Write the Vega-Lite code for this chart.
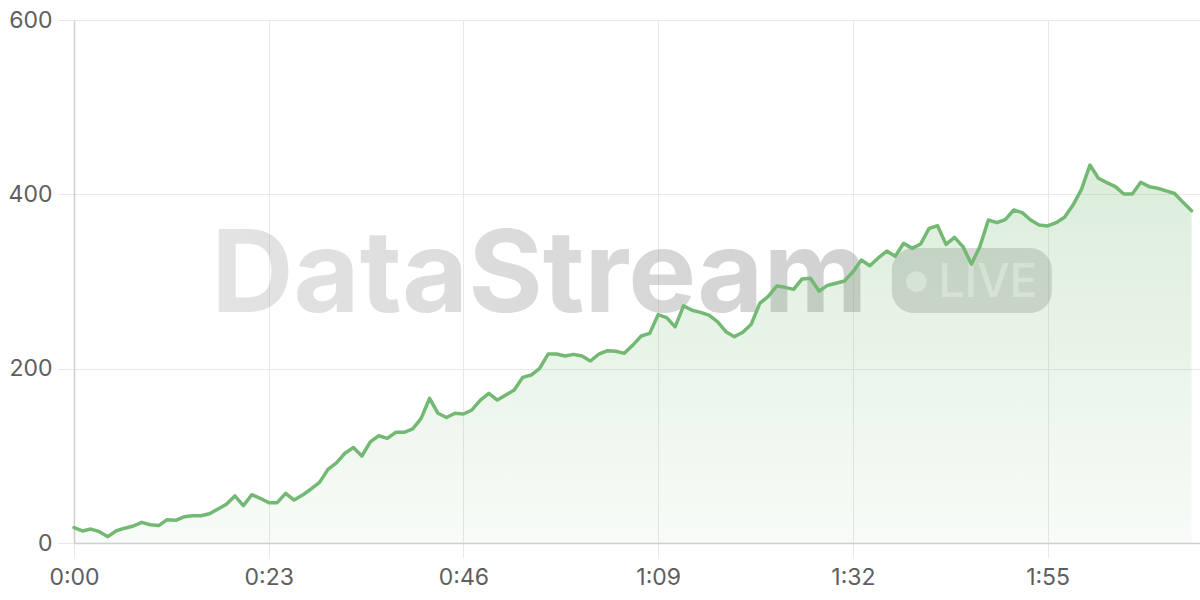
{
  "$schema": "https://vega.github.io/schema/vega-lite/v6.json",
  "width": 1126,
  "height": 523,
  "autosize": {"type": "none"},
  "padding": {"left": 74, "top": 20, "right": 0, "bottom": 57},
  "background": "white",
  "config": {
    "view": {"stroke": null},
    "font": "Inter",
    "axis": {
      "labelFont": "Inter",
      "labelFontSize": 23,
      "labelColor": "#5e5e5e",
      "labelFlush": false,
      "gridColor": "#e8e8e8",
      "tickColor": "#e8e8e8",
      "domainColor": "#cfcfcf",
      "domainWidth": 1.5,
      "title": null
    }
  },
  "datasets": {
    "series": [
      {"t": 0, "v": 17.6}, {"t": 1, "v": 13.8}, {"t": 2, "v": 16}, {"t": 3, "v": 13}, {"t": 4, "v": 7.3},
      {"t": 5, "v": 14}, {"t": 6, "v": 17}, {"t": 7, "v": 19.5}, {"t": 8, "v": 23.7}, {"t": 9, "v": 21},
      {"t": 10, "v": 20}, {"t": 11, "v": 26.8}, {"t": 12, "v": 26}, {"t": 13, "v": 30}, {"t": 14, "v": 31.3},
      {"t": 15, "v": 31.3}, {"t": 16, "v": 33.6}, {"t": 17, "v": 39}, {"t": 18, "v": 44.4}, {"t": 19, "v": 54},
      {"t": 20, "v": 42.8}, {"t": 21, "v": 55.4}, {"t": 22, "v": 51.3}, {"t": 23, "v": 46.3}, {"t": 24, "v": 46.3},
      {"t": 25, "v": 57}, {"t": 26, "v": 49.3}, {"t": 27, "v": 55}, {"t": 28, "v": 62}, {"t": 29, "v": 69.6},
      {"t": 30, "v": 84.5}, {"t": 31, "v": 92}, {"t": 32, "v": 103}, {"t": 33, "v": 109.5}, {"t": 34, "v": 99.8},
      {"t": 35, "v": 116}, {"t": 36, "v": 123}, {"t": 37, "v": 120}, {"t": 38, "v": 127}, {"t": 39, "v": 127},
      {"t": 40, "v": 130.8}, {"t": 41, "v": 143}, {"t": 42, "v": 166}, {"t": 43, "v": 148.8}, {"t": 44, "v": 144},
      {"t": 45, "v": 148.8}, {"t": 46, "v": 148}, {"t": 47, "v": 152.6}, {"t": 48, "v": 164}, {"t": 49, "v": 171.7},
      {"t": 50, "v": 164}, {"t": 51, "v": 169.8}, {"t": 52, "v": 175.5}, {"t": 53, "v": 190}, {"t": 54, "v": 192.7},
      {"t": 55, "v": 200.4}, {"t": 56, "v": 216.8}, {"t": 57, "v": 216.8}, {"t": 58, "v": 214.5}, {"t": 59, "v": 216.4},
      {"t": 60, "v": 214.5}, {"t": 61, "v": 208.8}, {"t": 62, "v": 216.8}, {"t": 63, "v": 220.6}, {"t": 64, "v": 220},
      {"t": 65, "v": 217.6}, {"t": 66, "v": 227}, {"t": 67, "v": 237.5}, {"t": 68, "v": 240.5}, {"t": 69, "v": 262},
      {"t": 70, "v": 258.5}, {"t": 71, "v": 248}, {"t": 72, "v": 272}, {"t": 73, "v": 267}, {"t": 74, "v": 264.6},
      {"t": 75, "v": 261.5}, {"t": 76, "v": 254}, {"t": 77, "v": 242.4}, {"t": 78, "v": 236.7}, {"t": 79, "v": 241.7},
      {"t": 80, "v": 251}, {"t": 81, "v": 275}, {"t": 82, "v": 283}, {"t": 83, "v": 294.8}, {"t": 84, "v": 293.3},
      {"t": 85, "v": 291}, {"t": 86, "v": 302.9}, {"t": 87, "v": 303.6}, {"t": 88, "v": 289}, {"t": 89, "v": 295.6},
      {"t": 90, "v": 298}, {"t": 91, "v": 300.6}, {"t": 92, "v": 311}, {"t": 93, "v": 324.6}, {"t": 94, "v": 318},
      {"t": 95, "v": 327}, {"t": 96, "v": 335}, {"t": 97, "v": 329}, {"t": 98, "v": 343.8}, {"t": 99, "v": 338},
      {"t": 100, "v": 343}, {"t": 101, "v": 361}, {"t": 102, "v": 364}, {"t": 103, "v": 342.6}, {"t": 104, "v": 350.7},
      {"t": 105, "v": 340}, {"t": 106, "v": 320}, {"t": 107, "v": 340}, {"t": 108, "v": 370.5}, {"t": 109, "v": 367.5},
      {"t": 110, "v": 371}, {"t": 111, "v": 382}, {"t": 112, "v": 379}, {"t": 113, "v": 370.5}, {"t": 114, "v": 364.8},
      {"t": 115, "v": 363.7}, {"t": 116, "v": 367.5}, {"t": 117, "v": 373.6}, {"t": 118, "v": 387.7}, {"t": 119, "v": 405.7},
      {"t": 120, "v": 433.6}, {"t": 121, "v": 418.4}, {"t": 122, "v": 413.4}, {"t": 123, "v": 408.8}, {"t": 124, "v": 400.4},
      {"t": 125, "v": 400.4}, {"t": 126, "v": 413.8}, {"t": 127, "v": 408.8}, {"t": 128, "v": 407}, {"t": 129, "v": 404},
      {"t": 130, "v": 401}, {"t": 131, "v": 390.8}, {"t": 132, "v": 381.2}
    ],
    "brand": [{"name": "DataStream", "badge": "LIVE"}]
  },
  "layer": [
    {
      "data": {"name": "brand"},
      "mark": {
        "type": "text", "align": "left", "baseline": "alphabetic", "fontSize": 114, "fontWeight": "bold", "font": "Inter", "letterSpacing": -2,
        "fill": {
          "gradient": "linear",
          "x1": 0, "y1": 0, "x2": 1, "y2": 0,
          "stops": [
            {"offset": 0, "color": "rgba(140,140,140,0.24)"},
            {"offset": 1, "color": "rgba(140,140,140,0.4)"}
          ]
        }
      },
      "encoding": {
        "x": {"datum": 16.2, "type": "quantitative"},
        "y": {"datum": 265.3, "type": "quantitative"},
        "text": {"field": "name"}
      }
    },
    {
      "data": {"name": "brand"},
      "mark": {"type": "rect", "fill": "#8c8c8c", "opacity": 0.32, "cornerRadius": 22},
      "encoding": {
        "x": {"datum": 96.6, "type": "quantitative"},
        "x2": {"datum": 115.5},
        "y": {"datum": 338.4, "type": "quantitative"},
        "y2": {"datum": 263.9}
      }
    },
    {
      "data": {"name": "brand"},
      "mark": {"type": "point", "shape": "circle", "filled": true, "size": 430, "fill": "white", "opacity": 0.5},
      "encoding": {
        "x": {"datum": 99.5, "type": "quantitative"},
        "y": {"datum": 299.8, "type": "quantitative"}
      }
    },
    {
      "data": {"name": "brand"},
      "mark": {"type": "text", "align": "left", "baseline": "alphabetic", "fontSize": 46, "fontWeight": 500, "font": "Inter", "fill": "white", "opacity": 0.5},
      "encoding": {
        "x": {"datum": 102.1, "type": "quantitative"},
        "y": {"datum": 282.6, "type": "quantitative"},
        "text": {"field": "badge"}
      }
    },
    {
      "data": {"name": "series"},
      "mark": {
        "type": "area",
        "color": {
          "gradient": "linear",
          "x1": 1, "y1": 1, "x2": 1, "y2": 0,
          "stops": [
            {"offset": 0, "color": "rgba(115,185,115,0.05)"},
            {"offset": 1, "color": "rgba(115,185,115,0.26)"}
          ]
        }
      },
      "encoding": {
        "x": {
          "field": "t",
          "type": "quantitative",
          "scale": {"domain": [0, 133], "nice": false, "zero": false},
          "axis": {
            "values": [0, 23, 46, 69, 92, 115],
            "grid": true,
            "tickSize": 15,
            "labelPadding": 8,
            "labelExpr": "floor(datum.value / 60) + ':' + (datum.value % 60 < 10 ? '0' : '') + (datum.value % 60)"
          }
        },
        "y": {
          "field": "v",
          "type": "quantitative",
          "scale": {"domain": [0, 600], "nice": false},
          "axis": {
            "values": [0, 200, 400, 600],
            "grid": true,
            "tickSize": 16,
            "labelPadding": 6
          }
        }
      }
    },
    {
      "data": {"name": "series"},
      "mark": {"type": "line", "color": "#73b973", "strokeWidth": 3.5, "strokeJoin": "round", "strokeCap": "round"},
      "encoding": {
        "x": {"field": "t", "type": "quantitative"},
        "y": {"field": "v", "type": "quantitative"}
      }
    }
  ]
}
